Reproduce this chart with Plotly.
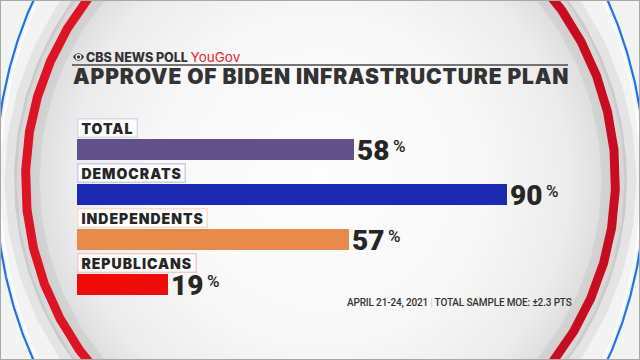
import numpy as np
import plotly.graph_objects as go

# ---------------- data ----------------
categories = ["TOTAL", "DEMOCRATS", "INDEPENDENTS", "REPUBLICANS"]
approve = [58, 90, 57, 19]
bar_colors = ["#605189", "#1b2ab0", "#e68b4b", "#f00b0b"]
label_borders = ["#dcd6ec", "#c9cdec", "#f6dccb", "#f5caca"]
brand = "CBS NEWS POLL"
partner = "YouGov"
title = "APPROVE OF BIDEN INFRASTRUCTURE PLAN"
footnote_date = "APRIL 21-24, 2021"
footnote_moe = "TOTAL SAMPLE MOE: ±2.3 PTS"

W, H = 640, 360
CX, CY = 320.5, 180.0
TXT = "#262626"

fig = go.Figure()


def ring(rx, ry=None, a0=0.0, a1=2 * np.pi):
    ry = rx if ry is None else ry
    t = np.linspace(a0, a1, 721)
    return CX + rx * np.cos(t), CY + ry * np.sin(t)


def deco_line(rx, ry, width, color, a0=0.0, a1=2 * np.pi):
    x, y = ring(rx, ry, a0, a1)
    fig.add_trace(go.Scatter(x=x, y=y, mode="lines", line=dict(width=width, color=color),
                             hoverinfo="skip", showlegend=False, xaxis="x", yaxis="y"))


# interior disc with radial gradient
x, y = ring(292)
fig.add_trace(go.Scatter(
    x=x, y=y, mode="lines", fill="toself", line=dict(width=0, color="rgba(0,0,0,0)"),
    fillgradient=dict(type="radial",
                      colorscale=[[0, "#fdfdfd"], [0.55, "#f8f8f8"], [0.85, "#ececec"], [1, "#dbdbdb"]]),
    hoverinfo="skip", showlegend=False, xaxis="x", yaxis="y"))

# shadows and rings
deco_line(310, 310, 12, "rgba(0,0,0,0.06)")
deco_line(303, 303, 7, "rgba(0,0,0,0.11)")
deco_line(286, 286, 10, "rgba(0,0,0,0.05)")
deco_line(295, 295, 9, "#c90d21", -np.pi / 2, np.pi / 2)
deco_line(295, 295, 9, "#dd1423", np.pi / 2, 3 * np.pi / 2)
deco_line(321, 380, 2, "rgba(255,255,255,0.9)")
deco_line(325, 384, 2.2, "#1f74e6")

# bars
fig.add_trace(go.Bar(
    x=approve, y=categories, orientation="h", width=0.467,
    marker=dict(color=bar_colors, line=dict(width=0)),
    hoverinfo="skip", showlegend=False, xaxis="x2", yaxis="y2"))

annotations = []
for cat, val, bc in zip(categories, approve, label_borders):
    annotations.append(dict(
        x=0, y=cat, xref="x2", yref="y2", xanchor="left", yanchor="middle", yshift=21.5,
        text=f"<span style='letter-spacing:1px'>\u2009{cat}\u2009</span>",
        showarrow=False, bgcolor="white", bordercolor=bc, borderwidth=1.5, borderpad=0,
        font=dict(family="Inter", size=14, weight=900, color=TXT)))
    annotations.append(dict(
        x=val, y=cat, xref="x2", yref="y2", xanchor="left", yanchor="middle", xshift=1, yshift=-1,
        text=(f"<span style='font-size:28px;font-weight:900'>{val}</span>"
              f"<sup><span style='font-size:17px'>\u2009%</span></sup>"),
        showarrow=False, font=dict(family="Roboto", size=19, weight=500, color=TXT)))

annotations.append(dict(
    x=84 / W, y=1 - 57 / H, xref="paper", yref="paper", xanchor="left", yanchor="middle",
    text=(f"{brand} "
          f"<span style='color:#e4262d;font-weight:400;font-size:13.5px'>{partner}</span>"),
    showarrow=False, font=dict(family="Inter", size=12.5, weight=800, color="#333333")))
annotations.append(dict(
    x=71 / W, y=1 - 76 / H, xref="paper", yref="paper", xanchor="left", yanchor="middle",
    text=f"<span style='letter-spacing:0.85px'>{title}</span>", showarrow=False,
    font=dict(family="Inter", size=21, weight=900, color="#333333")))
annotations.append(dict(
    x=345 / W, y=1 - 303 / H, xref="paper", yref="paper", xanchor="left", yanchor="middle",
    text=(f"<span style='letter-spacing:-0.15px'>{footnote_date} "
          f"<span style='color:#b5b5b5;font-weight:300'>|</span> {footnote_moe}</span>"),
    showarrow=False, font=dict(family="Roboto", size=10, weight=500, color="#333333")))

shapes = [
    # CBS eye
    dict(type="path", xref="x", yref="y", path="M73,57 Q78.5,49.5 84,57 Q78.5,64.5 73,57 Z",
         fillcolor="#333333", line=dict(width=0), layer="above"),
    dict(type="circle", xref="x", yref="y", x0=75.5, x1=81.5, y0=54, y1=60,
         fillcolor="white", line=dict(width=0), layer="above"),
    dict(type="circle", xref="x", yref="y", x0=76.8, x1=80.2, y0=55.3, y1=58.7,
         fillcolor="#333333", line=dict(width=0), layer="above"),
    # rule under brand line
    dict(type="line", xref="x", yref="y", x0=72, x1=568, y0=65, y1=65,
         line=dict(color="#4a4a4a", width=1.5), layer="above"),
    # frame
    dict(type="rect", xref="paper", yref="paper", x0=0, x1=1, y0=0, y1=1,
         line=dict(color="#a8a8a8", width=2), layer="above"),
]

fig.update_layout(
    width=W, height=H, margin=dict(l=0, r=0, t=0, b=0),
    paper_bgcolor="#f3f3f3", plot_bgcolor="rgba(0,0,0,0)",
    xaxis=dict(domain=[0, 1], range=[0, W], visible=False, fixedrange=True),
    yaxis=dict(domain=[0, 1], range=[H, 0], visible=False, fixedrange=True),
    xaxis2=dict(domain=[77 / W, 554.6 / W], range=[0, 100], visible=False, anchor="y2", fixedrange=True),
    yaxis2=dict(domain=[53 / H, 233 / H], type="category", categoryorder="array",
                categoryarray=categories, range=[3.5, -0.5], visible=False, anchor="x2", fixedrange=True),
    bargap=0, annotations=annotations, shapes=shapes, showlegend=False,
)

fig.write_html("out.html", config={"displayModeBar": False, "staticPlot": True},
               post_script="document.body.style.margin='0px';")
